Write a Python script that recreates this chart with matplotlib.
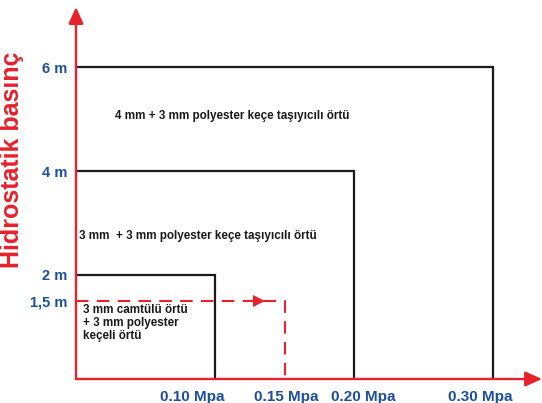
import matplotlib
matplotlib.use("Agg")
import matplotlib.pyplot as plt
import matplotlib.transforms as mtransforms

plt.rcParams['font.family'] = ['Liberation Sans', 'DejaVu Sans']

# Data
pressures = [0.10, 0.20, 0.30]          # MPa
heights = [2, 4, 6]                     # m
layer_labels = [
    "3 mm camtülü örtü\n+ 3 mm polyester\nkeçeli örtü",
    "3 mm  + 3 mm polyester keçe taşıyıcılı örtü",
    "4 mm + 3 mm polyester keçe taşıyıcılı örtü",
]
ref_pressure = 0.15
ref_height = 1.5
ytick_vals = [1.5, 2, 4, 6]
ytick_labels = ["1,5 m", "2 m", "4 m", "6 m"]
xtick_vals = [0.10, 0.15, 0.20, 0.30]
xtick_labels = ["0.10 Mpa", "0.15 Mpa", "0.20 Mpa", "0.30 Mpa"]
ylabel = "Hidrostatik basınç"

RED = "#e8212b"
BLUE = "#1d4f9c"
INK = "#1a1a1a"

fig = plt.figure(figsize=(5.42, 4.03), dpi=100)
ax = fig.add_axes([76/542, 24/403, 466/542, 372/403])
ax.set_xlim(0, 466/1390)
ax.set_ylim(0, 372/52)

for s in ax.spines.values():
    s.set_visible(False)

# rectangles
for p, h in zip(pressures, heights):
    ax.plot([0, p, p], [h, h, 0], color=INK, lw=1.6, solid_joinstyle="miter", zorder=2)

# dashed reference path
ax.plot([0, ref_pressure, ref_pressure], [ref_height, ref_height, 0], color=RED,
        lw=1.5, dashes=(6, 4), zorder=3)
ax.plot([ref_pressure * 0.88], [ref_height], marker=">", color=RED, markersize=9,
        markeredgewidth=0, zorder=4)

# axes with arrows
for end in [(0, 1.0), (1.0, 0)]:
    ax.annotate("", xy=end, xytext=(0, 0), xycoords="axes fraction",
                arrowprops=dict(arrowstyle="-|>,head_length=1.0,head_width=0.45",
                                color=RED, lw=1.7, shrinkA=0, shrinkB=0), zorder=5)

# ticks
ax.set_yticks(ytick_vals)
ax.set_yticklabels(ytick_labels, color=BLUE, fontweight="bold", fontsize=10.5)
ax.set_xticks(xtick_vals)
ax.set_xticklabels(xtick_labels, color=BLUE, fontweight="bold", fontsize=11)
ax.tick_params(axis="both", length=0)
ax.tick_params(axis="y", pad=6)
ax.tick_params(axis="x", pad=8)

x_offsets = [-23, 2, 9, -13]
for lab, dx in zip(ax.get_xticklabels(), x_offsets):
    lab.set_transform(lab.get_transform() + mtransforms.ScaledTranslation(dx/100, 0, fig.dpi_scale_trans))

ax.set_ylabel(ylabel, color=RED, fontweight="bold", fontsize=18)
ax.yaxis.set_label_coords(-0.112, 0.589)

# region labels
ax.text(0.005, 1.44, layer_labels[0], fontsize=8.4, fontweight="bold", color=INK,
        va="top", ha="left", linespacing=1.08)
ax.text(0.002, 2.75, layer_labels[1], fontsize=8.4, fontweight="bold", color=INK,
        va="center", ha="left")
ax.text(0.028, 5.06, layer_labels[2], fontsize=8.4, fontweight="bold", color=INK,
        va="center", ha="left")

fig.savefig("out.png", dpi=100)
